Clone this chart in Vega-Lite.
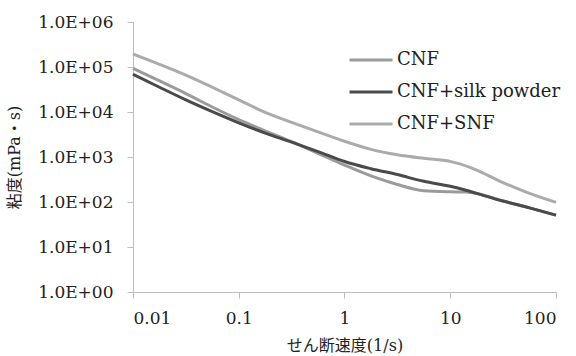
{
  "$schema": "https://vega.github.io/schema/vega-lite/v6.json",
  "autosize": {"type": "none"},
  "width": 423,
  "height": 270,
  "padding": {"left": 133, "top": 22, "right": 20, "bottom": 64},
  "background": "white",
  "config": {
    "view": {"stroke": null},
    "axis": {
      "grid": false,
      "domainColor": "#bdbdbd",
      "tickColor": "#bdbdbd",
      "domainWidth": 1,
      "tickWidth": 1,
      "tickSize": 6,
      "labelFont": "DejaVu Serif, Liberation Serif, serif",
      "labelFontSize": 17,
      "labelColor": "#222222",
      "titleFont": "DejaVu Serif, Noto Sans CJK JP",
      "titleFontSize": 16,
      "titleFontWeight": "normal",
      "titleColor": "#222222"
    }
  },
  "data": {
    "values": [
      {"x": 0.01, "y": 93000, "s": "CNF"},
      {"x": 0.0178, "y": 49000, "s": "CNF"},
      {"x": 0.0316, "y": 25700, "s": "CNF"},
      {"x": 0.0562, "y": 12900, "s": "CNF"},
      {"x": 0.1, "y": 6760, "s": "CNF"},
      {"x": 0.178, "y": 3800, "s": "CNF"},
      {"x": 0.316, "y": 2190, "s": "CNF"},
      {"x": 0.562, "y": 1200, "s": "CNF"},
      {"x": 1, "y": 660, "s": "CNF"},
      {"x": 1.78, "y": 380, "s": "CNF"},
      {"x": 3.16, "y": 245, "s": "CNF"},
      {"x": 5.62, "y": 178, "s": "CNF"},
      {"x": 10, "y": 168, "s": "CNF"},
      {"x": 14.1, "y": 166, "s": "CNF"},
      {"x": 17.8, "y": 155, "s": "CNF"},
      {"x": 31.6, "y": 105, "s": "CNF"},
      {"x": 56.2, "y": 74, "s": "CNF"},
      {"x": 100, "y": 51, "s": "CNF"},
      {"x": 0.01, "y": 69000, "s": "CNF+silk powder"},
      {"x": 0.0178, "y": 35500, "s": "CNF+silk powder"},
      {"x": 0.0316, "y": 18600, "s": "CNF+silk powder"},
      {"x": 0.0562, "y": 10200, "s": "CNF+silk powder"},
      {"x": 0.1, "y": 5750, "s": "CNF+silk powder"},
      {"x": 0.178, "y": 3390, "s": "CNF+silk powder"},
      {"x": 0.316, "y": 2140, "s": "CNF+silk powder"},
      {"x": 0.562, "y": 1320, "s": "CNF+silk powder"},
      {"x": 1, "y": 794, "s": "CNF+silk powder"},
      {"x": 1.78, "y": 550, "s": "CNF+silk powder"},
      {"x": 3.16, "y": 407, "s": "CNF+silk powder"},
      {"x": 5.62, "y": 288, "s": "CNF+silk powder"},
      {"x": 10, "y": 224, "s": "CNF+silk powder"},
      {"x": 14.1, "y": 182, "s": "CNF+silk powder"},
      {"x": 17.8, "y": 155, "s": "CNF+silk powder"},
      {"x": 31.6, "y": 105, "s": "CNF+silk powder"},
      {"x": 56.2, "y": 74, "s": "CNF+silk powder"},
      {"x": 100, "y": 51, "s": "CNF+silk powder"},
      {"x": 0.01, "y": 195000, "s": "CNF+SNF"},
      {"x": 0.0178, "y": 115000, "s": "CNF+SNF"},
      {"x": 0.0316, "y": 66000, "s": "CNF+SNF"},
      {"x": 0.0562, "y": 35500, "s": "CNF+SNF"},
      {"x": 0.1, "y": 18600, "s": "CNF+SNF"},
      {"x": 0.178, "y": 9800, "s": "CNF+SNF"},
      {"x": 0.316, "y": 5900, "s": "CNF+SNF"},
      {"x": 0.562, "y": 3630, "s": "CNF+SNF"},
      {"x": 1, "y": 2240, "s": "CNF+SNF"},
      {"x": 1.78, "y": 1480, "s": "CNF+SNF"},
      {"x": 3.16, "y": 1120, "s": "CNF+SNF"},
      {"x": 5.62, "y": 933, "s": "CNF+SNF"},
      {"x": 10, "y": 800, "s": "CNF+SNF"},
      {"x": 15.8, "y": 575, "s": "CNF+SNF"},
      {"x": 31.6, "y": 270, "s": "CNF+SNF"},
      {"x": 56.2, "y": 155, "s": "CNF+SNF"},
      {"x": 100, "y": 98, "s": "CNF+SNF"}
    ]
  },
  "mark": {"type": "line", "strokeWidth": 3, "interpolate": "monotone"},
  "encoding": {
    "x": {
      "field": "x",
      "type": "quantitative",
      "scale": {"type": "log", "domain": [0.01, 100], "nice": false},
      "axis": {
        "title": "せん断速度(1/s)",
        "values": [0.01, 0.1, 1, 10, 100],
        "labelExpr": "datum.value < 1 ? format(datum.value, '.2~f') : format(datum.value, 'd')",
        "labelPadding": 12,
        "titlePadding": 11
      }
    },
    "y": {
      "field": "y",
      "type": "quantitative",
      "scale": {"type": "log", "domain": [1, 1000000], "nice": false},
      "axis": {
        "title": "粘度(mPa・s)",
        "values": [1, 10, 100, 1000, 10000, 100000, 1000000],
        "labelExpr": "'1.0E+0' + round(log(datum.value) / LN10)",
        "labelPadding": 14,
        "titlePadding": 15
      }
    },
    "stroke": {
      "field": "s",
      "type": "nominal",
      "scale": {
        "domain": ["CNF", "CNF+silk powder", "CNF+SNF"],
        "range": ["#9b9b9b", "#4a4a4a", "#ababab"]
      },
      "legend": {
        "orient": "none",
        "legendX": 215,
        "legendY": 15,
        "title": null,
        "padding": 0,
        "symbolType": "stroke",
        "symbolSize": 1849,
        "symbolStrokeWidth": 3,
        "labelFont": "DejaVu Serif, Liberation Serif, serif",
        "labelFontSize": 18,
        "labelLimit": 0,
        "labelColor": "#222222",
        "labelOffset": 3,
        "rowPadding": -14
      }
    }
  }
}
